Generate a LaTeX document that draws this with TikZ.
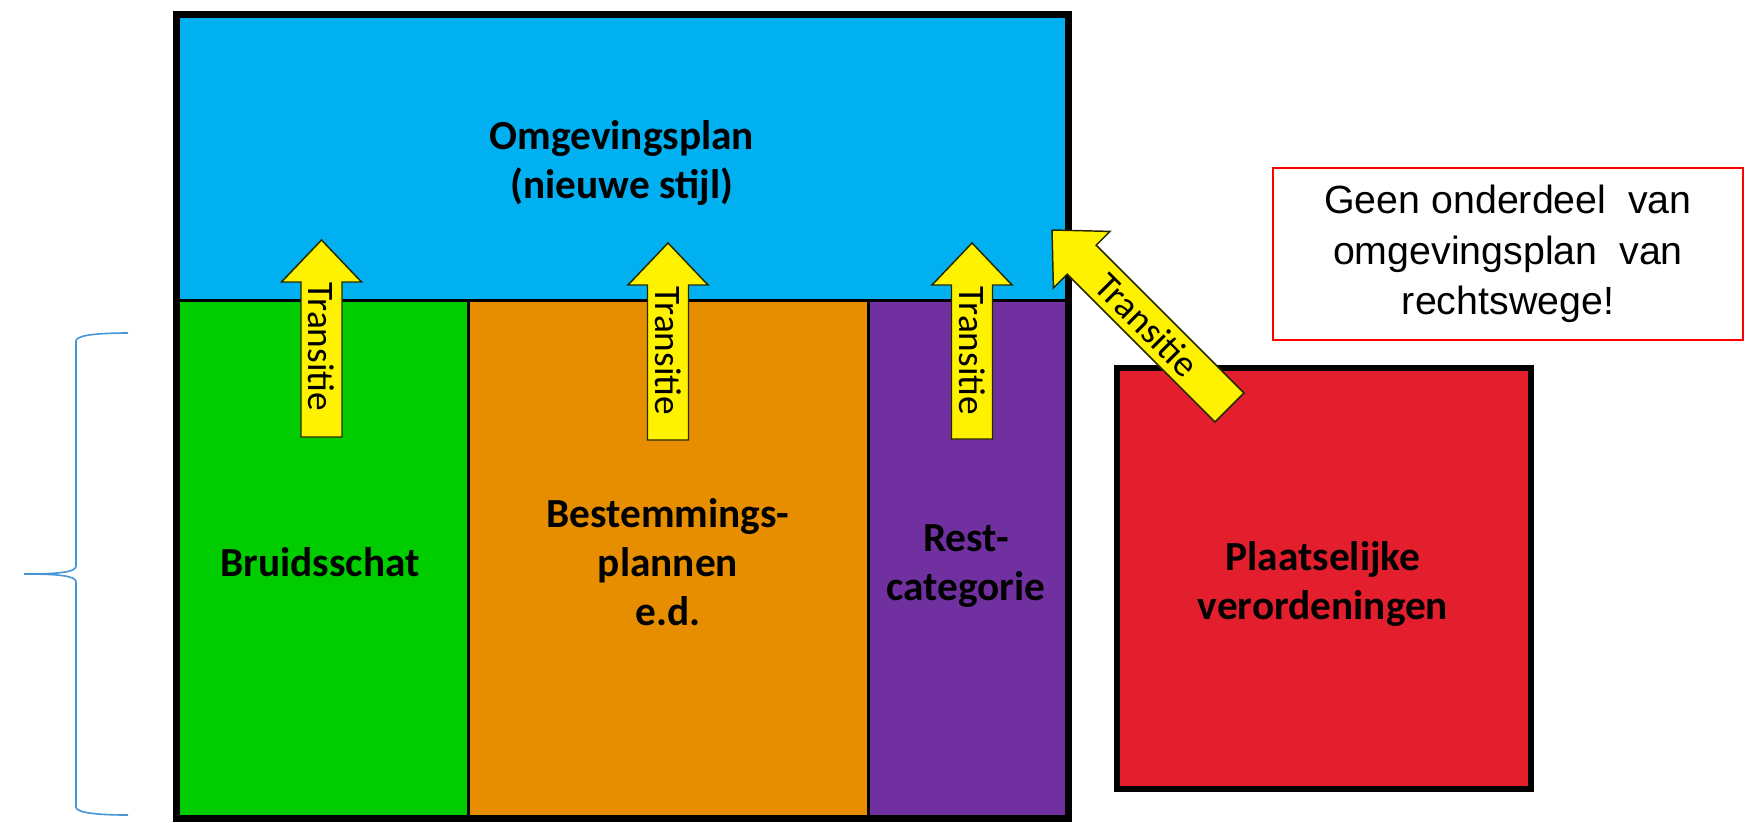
\documentclass[tikz,border=0pt]{standalone}
\usepackage{fontspec}
\setmainfont{Carlito}
\newfontfamily\arialfont{Liberation Sans}
\usepackage{tikz}

\definecolor{planblue}{RGB}{0,176,240}
\definecolor{bruidgreen}{RGB}{0,204,0}
\definecolor{bestorange}{RGB}{230,142,0}
\definecolor{restpurple}{RGB}{112,48,160}
\definecolor{verordred}{RGB}{227,30,45}
\definecolor{braceblue}{RGB}{70,150,215}
\definecolor{arrowedge}{RGB}{40,40,0}

\begin{document}
\begin{tikzpicture}[x=0.75pt,y=0.75pt,yscale=-1,xscale=1,
    planlabel/.style={align=center,inner sep=0.75pt,font=\fontsize{31}{37}\selectfont\bfseries},
    transtxt/.style={inner sep=0.75pt,font=\fontsize{28}{30}\selectfont},
    transarrow/.style={draw=arrowedge,fill=yellow,line width=1.1pt,line join=miter}]
        \useasboundingbox (0,0) rectangle (1747,822);
        %Shape: Rectangle (omgevingsplan)
        \fill[planblue] (176,14) rectangle (1069,300);
        %Shape: Rectangle (bruidsschat)
        \fill[bruidgreen] (176,300) rectangle (468,819);
        %Shape: Rectangle (bestemmingsplannen)
        \fill[bestorange] (468,300) rectangle (868,819);
        %Shape: Rectangle (restcategorie)
        \fill[restpurple] (868,300) rectangle (1069,819);
        %Straight Lines
        \draw[line width=2.25pt] (176,300) -- (1069,300);
        \draw[line width=2.25pt] (468,300) -- (468,819);
        \draw[line width=2.25pt] (868,300) -- (868,819);
        %Shape: Rectangle (outer border)
        \draw[line width=5.25pt] (176.5,14.5) rectangle (1068.5,818.5);
        %Shape: Rectangle (plaatselijke verordeningen)
        \draw[line width=4.5pt,fill=verordred] (1117,368) rectangle (1531,789);
        %Shape: Rectangle (note)
        \draw[red,line width=1.5pt,fill=white] (1273,168) rectangle (1743,340);
        %Shape: Brace
        \draw[braceblue,line width=1.2pt] (128,333) .. controls (92,333) and (76,336) .. (76,341) -- (76,566)
            .. controls (76,572) and (60,574) .. (24,574) .. controls (60,574) and (76,576) .. (76,582)
            -- (76,807) .. controls (76,812) and (92,815) .. (128,815);
        %Shape: Up Arrow
        \draw[transarrow] (301,437) -- (301,282) -- (281.5,282) -- (321.5,240) -- (361.5,282) -- (342,282) -- (342,437) -- cycle;
        %Shape: Up Arrow
        \draw[transarrow] (647.5,440) -- (647.5,285) -- (628,285) -- (668,243) -- (708,285) -- (688.5,285) -- (688.5,440) -- cycle;
        %Shape: Up Arrow
        \draw[transarrow] (951.5,439) -- (951.5,285) -- (932,285) -- (972,243) -- (1012,285) -- (992.5,285) -- (992.5,439) -- cycle;
        %Shape: Diagonal Arrow
        \draw[transarrow] (1215,422) -- (1067.2,274.2) -- (1053.4,288) -- (1052,230) -- (1110,231.4) -- (1096.2,245.2) -- (1244,393) -- cycle;
        % Text Node
        \node[planlabel] (omgplan) at (622,163) {Omgevingsplan\\(nieuwe stijl)};
        % Text Node
        \node[planlabel] (bruid) at (320,562) {Bruidsschat};
        % Text Node
        \node[planlabel] (bestem) at (668,562) {Bestemmings-\\plannen\\e.d.};
        % Text Node
        \node[planlabel] (rest) at (966,566) {Rest-\\categorie};
        % Text Node
        \node[planlabel] (plaats) at (1323,584) {Plaatselijke\\verordeningen};
        % Text Node
        \node[align=center,inner sep=0.75pt,font=\arialfont\fontsize{29.5}{38}\selectfont] (geen) at (1508,254)
            {Geen onderdeel\ \ van\\omgevingsplan\ \ van\\rechtswege!};
        % Text Node
        \node[transtxt,rotate=-90] (trans1) at (321.5,347) {Transitie};
        % Text Node
        \node[transtxt,rotate=-90] (trans2) at (668,351) {Transitie};
        % Text Node
        \node[transtxt,rotate=-90] (trans3) at (972,351) {Transitie};
        % Text Node
        \node[transtxt,rotate=-45] (trans4) at (1147,325) {Transitie};
\end{tikzpicture}
\end{document}
